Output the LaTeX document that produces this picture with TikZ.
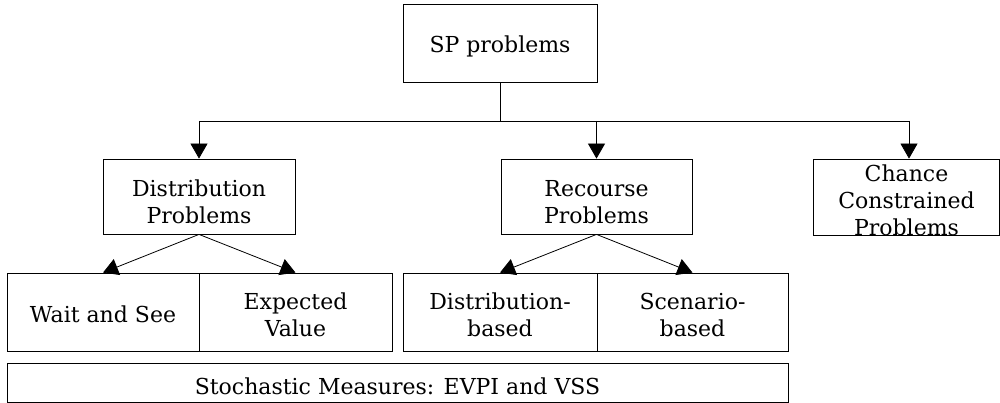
\documentclass[tikz,border=0pt]{standalone}
\usepackage{fontspec}
\setmainfont{DejaVu Serif}
\usetikzlibrary{arrows.meta}
\begin{document}
\begin{tikzpicture}[x=1pt,y=-1pt,
  box/.style={draw,line width=0.8pt,inner sep=0pt,rectangle},
  lbl/.style={inner sep=0pt,align=center,font=\fontsize{22}{27}\selectfont},
  conn/.style={line width=0.8pt},
  arr/.style={line width=0.8pt,-{Triangle[length=15pt,width=17pt]}}]
\useasboundingbox (0,0) rectangle (1000,403);
% boxes
\node[box,minimum width=194pt,minimum height=78pt] (sp) at (500,43) {};
\node[box,minimum width=192pt,minimum height=75pt] (dp) at (199,196.5) {};
\node[box,minimum width=191pt,minimum height=75pt] (rp) at (596.5,196.5) {};
\node[box,minimum width=186pt,minimum height=76pt] (cc) at (906.5,197) {};
\node[box,minimum width=192pt,minimum height=78pt] (ws) at (103,312) {};
\node[box,minimum width=193pt,minimum height=78pt] (ev) at (295.5,312) {};
\node[box,minimum width=194pt,minimum height=78pt] (db) at (500,312) {};
\node[box,minimum width=191pt,minimum height=78pt] (sb) at (692.5,312) {};
\node[box,minimum width=781pt,minimum height=39pt] (sm) at (397.5,382.5) {};
% labels
\node[lbl] (tsp) at (500,46) {SP problems};
\node[lbl] (tdp) at (199,202) {Distribution\\Problems};
\node[lbl] (trp) at (596.5,202) {Recourse\\Problems};
\node[lbl] (tcc) at (906.5,200) {Chance\\Constrained\\Problems};
\node[lbl] (tws) at (103,314) {Wait and See};
\node[lbl] (tev) at (295.5,315) {Expected\\Value};
\node[lbl] (tdb) at (500,315) {Distribution-\\based};
\node[lbl] (tsb) at (692.5,315) {Scenario-\\based};
\node[lbl] (tsm) at (397.5,386) {Stochastic Measures: EVPI and VSS};
% connectors
\coordinate (bus) at (500,121);
\coordinate (busl) at (199,121);
\coordinate (busr) at (909,121);
\draw[conn] (sp.south) -- (bus);
\draw[conn] (busl) -- (busr);
\draw[arr] (busl) -- (dp.north);
\draw[arr] (bus -| rp.north) -- (rp.north);
\draw[arr] (busr) -- (busr |- cc.north);
\draw[arr] (dp.south) -- (ws.north);
\draw[arr] (dp.south) -- (ev.north);
\draw[arr] (rp.south) -- (db.north);
\draw[arr] (rp.south) -- (sb.north);
\end{tikzpicture}
\end{document}
